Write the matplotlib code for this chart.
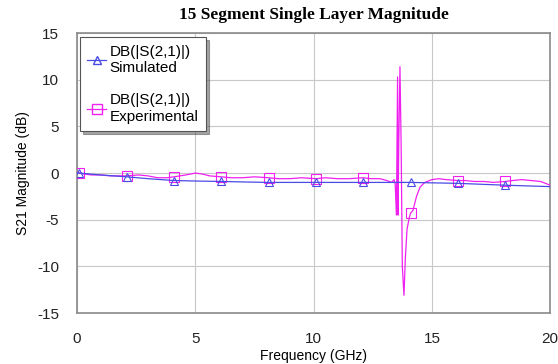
import matplotlib.pyplot as plt
from matplotlib.lines import Line2D
import numpy as np

plt.rcParams['axes.unicode_minus'] = False

# simulated S21 (dB)
sim_freq = [0.0, 0.1, 1.0, 2.1, 3.0, 4.1, 5.0, 6.1, 7.0, 8.1, 10.1, 12.1, 14.1, 16.1, 18.1, 20.0]
sim_db = [0.0, 0.0, -0.2, -0.4, -0.6, -0.8, -0.85, -0.9, -0.95, -1.0, -1.0, -1.0, -1.0, -1.1, -1.3, -1.45]

# measured S21 (dB)
exp_freq = [0.0, 0.1, 0.3, 0.6, 1.0, 1.4, 1.8, 2.1, 2.6, 3.0, 3.4, 3.8, 4.1, 4.6, 5.0, 5.3,
            5.6, 6.1, 6.5, 7.0, 7.5, 8.1, 8.5, 9.0, 9.5, 10.1, 10.5, 11.0, 11.5, 12.1, 12.4,
            12.8, 13.1, 13.3, 13.4, 13.45, 13.5, 13.55, 13.57, 13.6, 13.65, 13.7, 13.75, 13.82,
            13.88, 13.95, 14.05, 14.1, 14.2, 14.35, 14.5, 14.7, 15.0, 15.3, 15.6, 16.1, 16.4,
            16.8, 17.2, 17.6, 18.1, 18.4, 18.8, 19.2, 19.6, 20.0]
exp_db = [0.1, 0.0, -0.1, -0.2, -0.2, -0.3, -0.3, -0.3, -0.2, -0.3, -0.5, -0.5, -0.4, -0.2, 0.0, -0.1,
          -0.3, -0.4, -0.5, -0.5, -0.4, -0.5, -0.6, -0.6, -0.5, -0.6, -0.5, -0.6, -0.6, -0.5, -0.6,
          -0.6, -0.8, -1.0, -0.7, -1.2, -4.5, 10.3, -4.5, 3.0, 11.4, 3.0, -10.0, -13.1,
          -9.0, -6.0, -4.7, -4.3, -4.0, -2.5, -1.5, -1.0, -0.7, -0.6, -0.7, -0.8, -0.8,
          -0.9, -0.9, -1.0, -0.9, -0.8, -0.7, -0.8, -0.9, -1.3]

mark_freq = [0.1, 2.1, 4.1, 6.1, 8.1, 10.1, 12.1, 14.1, 16.1, 18.1]

sim_col = '#4a4ae6'
exp_col = '#f020f0'

fig = plt.figure(figsize=(5.58, 3.64), dpi=100)
ax = fig.add_axes([0.138, 0.14, 0.848, 0.769])

sim_idx = [i for i, f in enumerate(sim_freq) if f in mark_freq]
exp_idx = [i for i, f in enumerate(exp_freq) if f in mark_freq]

ax.plot(exp_freq, exp_db, color=exp_col, lw=0.9, marker='s', markersize=6.5,
        markerfacecolor='none', markeredgewidth=0.8, markevery=exp_idx, zorder=3)
ax.plot(sim_freq, sim_db, color=sim_col, lw=0.9, marker='^', markersize=5.5,
        markerfacecolor='none', markeredgewidth=0.8, markevery=sim_idx, zorder=4)

ax.set_xlim(0, 20)
ax.set_ylim(-15, 15)
ax.set_xticks([0, 5, 10, 15, 20])
ax.set_yticks([-15, -10, -5, 0, 5, 10, 15])
ax.grid(True, color='#c8c8c8', lw=0.8)
ax.set_axisbelow(True)
for s in ax.spines.values():
    s.set_color('#8a8a8a')
    s.set_linewidth(1.2)
ax.tick_params(length=0, labelsize=11, labelcolor='#222222')
ax.tick_params(axis='y', pad=13)
ax.tick_params(axis='x', pad=14)
for lab in ax.get_xticklabels() + ax.get_yticklabels():
    lab.set_family('Liberation Sans')

ax.set_title('15 Segment Single Layer Magnitude', family='Liberation Serif',
             fontweight='bold', fontsize=12.5, pad=10)
ax.set_xlabel('Frequency (GHz)', family='Liberation Sans', fontsize=10, labelpad=2)
ax.set_ylabel('S21 Magnitude (dB)', family='Liberation Sans', fontsize=10, labelpad=5)

handles = [
    Line2D([], [], color=sim_col, lw=0.9, marker='^', markersize=6, markerfacecolor='none'),
    Line2D([], [], color=exp_col, lw=0.9, marker='s', markersize=7, markerfacecolor='none'),
]
leg = ax.legend(handles, ['DB(|S(2,1)|)\nSimulated', 'DB(|S(2,1)|)\nExperimental'],
                loc='upper left', bbox_to_anchor=(0.006, 0.985), borderaxespad=0,
                fancybox=False, shadow=True, handlelength=1.2, handletextpad=0.25,
                prop={'family': 'Liberation Sans', 'size': 11}, labelspacing=1.2,
                borderpad=0.5, framealpha=1)
leg.get_frame().set_edgecolor('#555555')
leg.get_frame().set_linewidth(0.8)

fig.savefig('out.png', dpi=100)
